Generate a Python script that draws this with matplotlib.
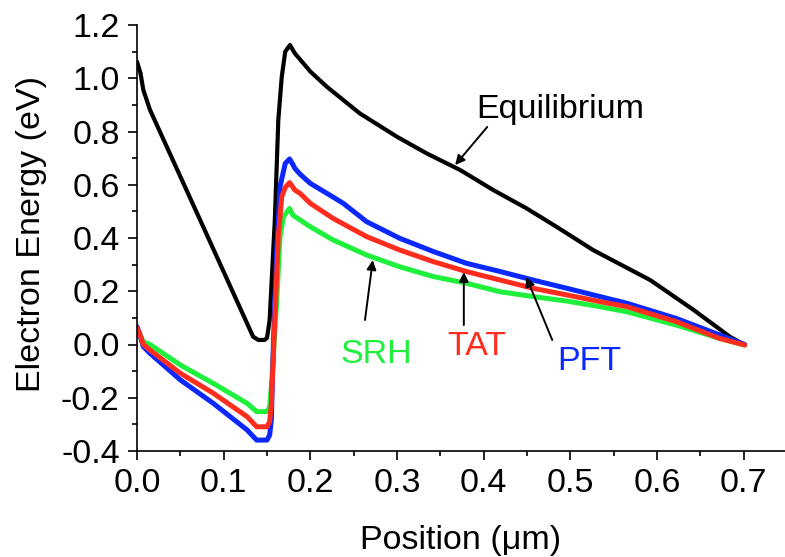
import matplotlib
matplotlib.use("Agg")
import matplotlib.pyplot as plt
from matplotlib.ticker import MultipleLocator, FormatStrFormatter

plt.rcParams["font.family"] = ["Liberation Sans", "DejaVu Sans"]
plt.rcParams["axes.unicode_minus"] = False

# Conduction-band profiles along the device (position in um, energy in eV)
eq_x = [0.0, 0.004, 0.0073, 0.015, 0.0746, 0.134, 0.140, 0.147, 0.150, 0.153,
        0.156, 0.159, 0.163, 0.167, 0.171, 0.1765, 0.180, 0.182, 0.200, 0.219,
        0.257, 0.300, 0.334, 0.373, 0.411, 0.449, 0.484, 0.526, 0.592, 0.642,
        0.684, 0.701]
eq_y = [1.062, 1.02, 0.956, 0.881, 0.455, 0.029, 0.017, 0.017, 0.025, 0.092,
        0.28, 0.468, 0.843, 1.006, 1.10, 1.125, 1.105, 1.094, 1.025, 0.968,
        0.868, 0.78, 0.718, 0.655, 0.580, 0.512, 0.442, 0.355, 0.242, 0.130,
        0.029, -0.002]

srh_x = [0.0, 0.003, 0.0073, 0.015, 0.05, 0.088, 0.127, 0.138, 0.150, 0.153,
         0.155, 0.161, 0.165, 0.169, 0.176, 0.180, 0.188, 0.200, 0.226, 0.265,
         0.303, 0.342, 0.380, 0.419, 0.457, 0.496, 0.534, 0.565, 0.622, 0.672,
         0.701]
srh_y = [0.06, 0.04, 0.01, 0.0, -0.077, -0.146, -0.221, -0.252, -0.252, -0.235,
         -0.158, 0.155, 0.405, 0.48, 0.511, 0.485, 0.468, 0.442, 0.393, 0.336,
         0.292, 0.255, 0.230, 0.198, 0.180, 0.163, 0.142, 0.123, 0.073, 0.023,
         -0.002]

pft_x = [0.0, 0.003, 0.0073, 0.015, 0.05, 0.088, 0.127, 0.138, 0.150, 0.153,
         0.155, 0.157, 0.161, 0.165, 0.171, 0.176, 0.180, 0.182, 0.188, 0.200,
         0.223, 0.238, 0.265, 0.303, 0.342, 0.380, 0.419, 0.457, 0.496, 0.534,
         0.565, 0.622, 0.672, 0.701]
pft_y = [0.067, 0.04, -0.008, -0.033, -0.133, -0.221, -0.321, -0.359, -0.359, -0.34,
         -0.284, -0.033, 0.342, 0.593, 0.680, 0.697, 0.675, 0.662, 0.640, 0.605,
         0.56, 0.53, 0.461, 0.399, 0.349, 0.305, 0.274, 0.242, 0.211, 0.180,
         0.155, 0.098, 0.036, 0.0]

tat_x = [0.0, 0.003, 0.0073, 0.015, 0.05, 0.088, 0.127, 0.138, 0.150, 0.153,
         0.155, 0.159, 0.163, 0.167, 0.171, 0.176, 0.180, 0.182, 0.188, 0.200,
         0.226, 0.265, 0.303, 0.342, 0.380, 0.419, 0.457, 0.496, 0.534, 0.565,
         0.622, 0.672, 0.701]
tat_y = [0.062, 0.04, 0.0, -0.021, -0.108, -0.183, -0.271, -0.309, -0.309, -0.29,
         -0.221, 0.092, 0.405, 0.555, 0.59, 0.608, 0.59, 0.58, 0.568, 0.530,
         0.474, 0.405, 0.355, 0.311, 0.274, 0.242, 0.211, 0.186, 0.161, 0.142,
         0.086, 0.023, -0.002]

x_ticks = [0.0, 0.1, 0.2, 0.3, 0.4, 0.5, 0.6, 0.7]
y_ticks = [-0.4, -0.2, 0.0, 0.2, 0.4, 0.6, 0.8, 1.0, 1.2]

BLACK = "#000000"
GREEN = "#1ef03c"
BLUE = "#0a28ff"
RED = "#ff2d1e"
FS = 24.5

fig = plt.figure(figsize=(7.85, 5.57), dpi=100)
ax = fig.add_axes([137 / 785, 1 - 451 / 557, (785 - 137) / 785, (451 - 25) / 557])

lw_c = 3.6
ax.plot(eq_x, eq_y, color=BLACK, lw=3.0, solid_joinstyle="round", solid_capstyle="round")
ax.plot(srh_x, srh_y, color=GREEN, lw=lw_c, solid_joinstyle="round", solid_capstyle="round")
ax.plot(pft_x, pft_y, color=BLUE, lw=lw_c, solid_joinstyle="round", solid_capstyle="round")
ax.plot(tat_x, tat_y, color=RED, lw=lw_c, solid_joinstyle="round", solid_capstyle="round")

ax.set_xlim(0.0, 0.7475)
ax.set_ylim(-0.4, 1.2)
ax.set_xticks(x_ticks)
ax.set_yticks(y_ticks)
ax.xaxis.set_major_formatter(FormatStrFormatter("%.1f"))
ax.yaxis.set_major_formatter(FormatStrFormatter("%.1f"))
ax.xaxis.set_minor_locator(MultipleLocator(0.05))
ax.yaxis.set_minor_locator(MultipleLocator(0.1))

for side in ("top", "right"):
    ax.spines[side].set_visible(False)
for side in ("left", "bottom"):
    ax.spines[side].set_linewidth(1.2)

ax.tick_params(which="major", direction="out", length=6.5, width=1.2,
               labelsize=FS, pad=6, top=False, right=False)
ax.tick_params(which="minor", direction="out", length=3.6, width=1.2,
               top=False, right=False)

fig.text(32 / 785, 1 - 233.5 / 557, "Electron Energy (eV)", rotation=90,
         ha="center", va="center", fontsize=FS)
fig.text(461 / 785, 1 - 549 / 557, "Position (\u03bcm)", ha="center",
         va="baseline", fontsize=FS)

arrow = dict(arrowstyle="-|>", color="black", lw=1.4, mutation_scale=14,
             shrinkA=0, shrinkB=0)
ax.annotate("", xy=(0.367, 0.674), xytext=(0.404, 0.817), arrowprops=arrow)
ax.annotate("", xy=(0.272, 0.317), xytext=(0.263, 0.092), arrowprops=arrow)
ax.annotate("", xy=(0.377, 0.272), xytext=(0.377, 0.073), arrowprops=arrow)
ax.annotate("", xy=(0.449, 0.254), xytext=(0.479, 0.017), arrowprops=arrow)

ax.text(0.488, 0.881, "Equilibrium", color=BLACK, fontsize=FS, ha="center", va="center")
ax.text(0.276, -0.039, "SRH", color=GREEN, fontsize=FS, ha="center", va="center")
ax.text(0.392, -0.009, "TAT", color=RED, fontsize=FS, ha="center", va="center")
ax.text(0.522, -0.062, "PFT", color=BLUE, fontsize=FS, ha="center", va="center")

fig.savefig("out.png", dpi=100)
